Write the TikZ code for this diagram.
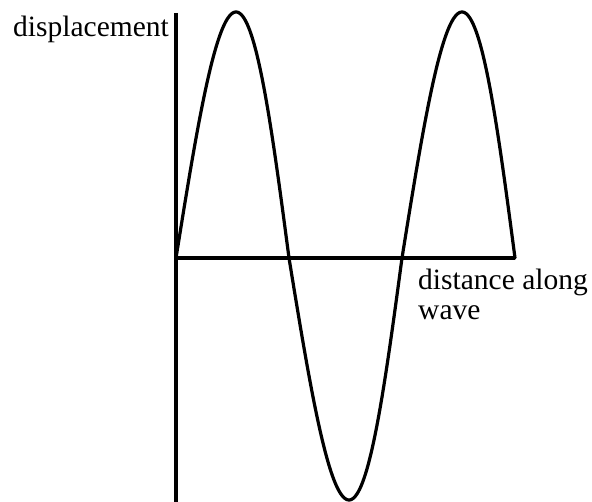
\documentclass[tikz,border=0pt]{standalone}
\usepackage{fontspec}
\setmainfont{Liberation Serif}
\begin{document}
\begin{tikzpicture}[x=1pt,y=1pt,
  axisline/.style={line width=3.2pt},
  waveline/.style={line width=3.2pt, line join=round, line cap=round},
  lbl/.style={inner sep=0pt, anchor=base west, font=\fontsize{29.5}{30}\selectfont}]
\useasboundingbox (0,0) rectangle (592,502);
\coordinate (o) at (176,244);
\coordinate (top) at (176,489);
\coordinate (bot) at (176,0);
\coordinate (xend) at (515,244);
\draw[axisline] (top) -- (bot);
\draw[axisline] (o) -- (xend);
\draw[waveline] plot[domain=0:339, samples=300]
  ({176 + \x + 3.5*abs(sin(\x/113*180))},
   {244 + (sin(\x/226*360) > 0 ? 246 : 242)*sin(\x/226*360)});
\node[lbl] (ylabel) at (13,465) {displacement};
\node[lbl] (xlabel1) at (418,212) {distance along};
\node[lbl] (xlabel2) at (418,182) {wave};
\end{tikzpicture}
\end{document}
